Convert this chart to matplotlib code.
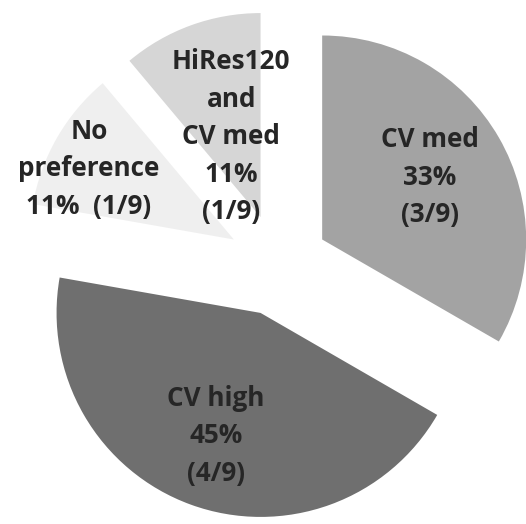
import numpy as np
import matplotlib
matplotlib.use("Agg")
import matplotlib.pyplot as plt

categories = ["CV med", "CV high", "No\npreference", "HiRes120\nand\nCV med"]
counts = [3, 4, 1, 1]
total = 9
pct_labels = ["33%", "45%", "11%", "11%"]
colors = ["#a3a3a3", "#6f6f6f", "#efefef", "#d6d6d6"]
label_dist = [0.61, 0.64, 0.79, 0.42]
label_angle_shift = [0, 0, 4, 0]

fig = plt.figure(figsize=(5.26, 5.24), dpi=100)
ax = fig.add_axes([0, 0, 1, 1])

wedges, _ = ax.pie(counts, colors=colors, startangle=90, counterclock=False,
                   explode=[0.25] * 4, radius=1.0,
                   wedgeprops=dict(linewidth=0))

for i, w in enumerate(wedges):
    th = np.deg2rad((w.theta1 + w.theta2) / 2 + label_angle_shift[i])
    cx, cy = w.center
    d = label_dist[i]
    frac = f"({counts[i]}/{total})"
    if i == 2:
        txt = f"{categories[i]}\n{pct_labels[i]}  {frac}"
    else:
        txt = f"{categories[i]}\n{pct_labels[i]}\n{frac}"
    ax.text(cx + d * np.cos(th), cy + d * np.sin(th), txt,
            ha="center", va="center", multialignment="center",
            fontsize=18.8, fontweight="bold", family="Open Sans",
            color="#262626", linespacing=1.5)

s = 204.0
ax.set_xlim(-278 / s, (526 - 278) / s)
ax.set_ylim(-(524 - 265) / s, 265 / s)
ax.set_aspect("auto")
ax.axis("off")

fig.savefig("out.png", dpi=100, facecolor="white")
